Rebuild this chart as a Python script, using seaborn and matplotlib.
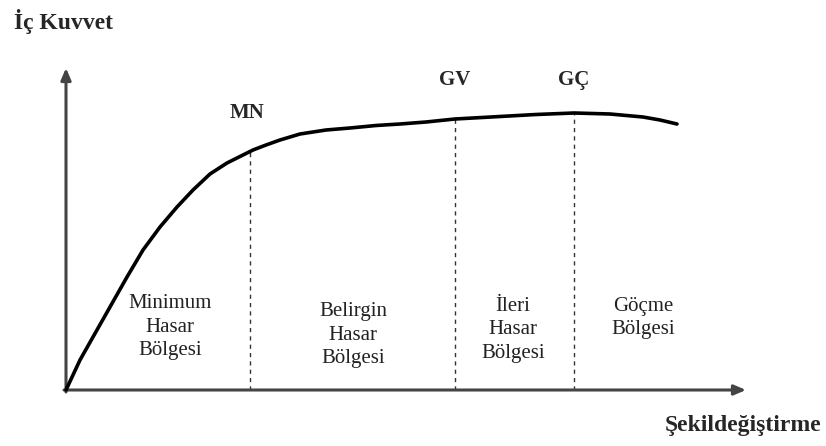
import matplotlib
matplotlib.use("Agg")
import matplotlib.pyplot as plt
import seaborn as sns
import pandas as pd

# capacity curve (deformation vs. internal force)
deform = [0.00, 0.07, 0.14, 0.27, 0.44, 0.61, 0.77, 0.94, 1.11, 1.27, 1.44, 1.61,
          1.77, 1.87, 2.00, 2.14, 2.34, 2.60, 2.84, 3.10, 3.34, 3.60, 3.89, 4.34,
          4.70, 5.08, 5.44, 5.77, 5.94, 6.11]
force = [0.00, 0.15, 0.30, 0.53, 0.83, 1.13, 1.40, 1.63, 1.83, 2.00, 2.16, 2.27,
         2.35, 2.40, 2.45, 2.50, 2.56, 2.60, 2.62, 2.645, 2.66, 2.68, 2.71, 2.735,
         2.755, 2.77, 2.76, 2.73, 2.70, 2.66]

# performance levels
levels = ['MN', 'GV', 'GÇ']
level_x = [1.84, 3.89, 5.08]
level_y = [2.39, 2.71, 2.77]

zones = ['Minimum\nHasar\nBölgesi', 'Belirgin\nHasar\nBölgesi',
         'İleri\nHasar\nBölgesi', 'Göçme\nBölgesi']
zone_x = [1.04, 2.87, 4.47, 5.77]
zone_y = [0.63, 0.55, 0.60, 0.72]

sns.set_style("white")
plt.rcParams['font.family'] = ['Liberation Serif', 'DejaVu Serif']

fig = plt.figure(figsize=(8.26, 4.46), dpi=100)
ax = fig.add_axes([0, 0, 1, 1])
ax.set_xlim(-0.66, 7.60)
ax.set_ylim(-0.56, 3.90)
ax.axis('off')

df = pd.DataFrame({'x': deform, 'y': force})
sns.lineplot(data=df, x='x', y='y', ax=ax, color='black', lw=2.6, sort=False,
             estimator=None, zorder=5, solid_joinstyle='round',
             solid_capstyle='round')

# axes as arrows
arrow = dict(arrowstyle='-|>,head_length=0.7,head_width=0.3', color='#444444',
             lw=2.2, shrinkA=0, shrinkB=0)
ax.annotate('', xy=(0, 3.22), xytext=(0, -0.02), arrowprops=arrow)
ax.annotate('', xy=(6.80, 0), xytext=(-0.02, 0), arrowprops=arrow)

for name, x, y in zip(levels, level_x, level_y):
    ax.plot([x, x], [0, y], color='#333333', lw=1.0, ls=(0, (3, 3)))

ax.text(level_x[0] - 0.03, 2.77, levels[0], ha='center', va='center',
        fontsize=15, fontweight='bold')
for name, x in zip(levels[1:], level_x[1:]):
    ax.text(x, 3.10, name, ha='center', va='center', fontsize=15, fontweight='bold')

for label, x, y in zip(zones, zone_x, zone_y):
    ax.text(x, y, label, ha='center', va='center', fontsize=15,
            color='#222222', linespacing=1.3)

ax.text(-0.52, 3.68, 'İç Kuvvet', ha='left', va='center', fontsize=17,
        fontweight='bold')
ax.text(7.55, -0.35, 'Şekildeğiştirme', ha='right', va='center', fontsize=17,
        fontweight='bold')

fig.savefig('out.png', dpi=100)
